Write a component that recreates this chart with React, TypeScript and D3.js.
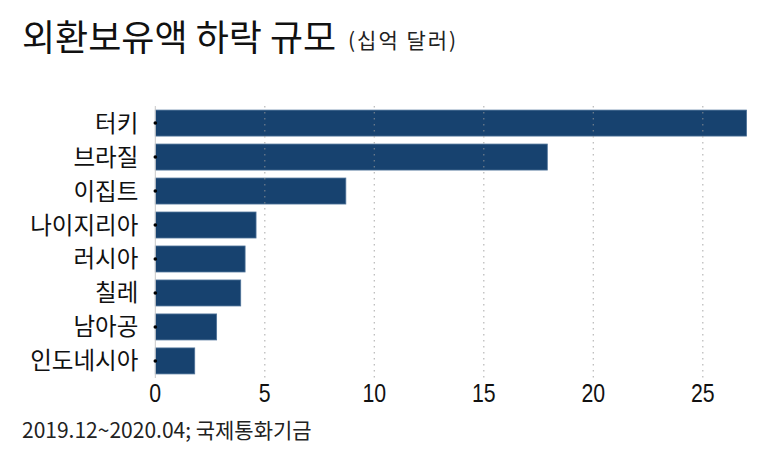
import { useEffect, useRef } from 'react';
import * as d3 from 'd3';

const COUNTRIES = ['터키', '브라질', '이집트', '나이지리아', '러시아', '칠레', '남아공', '인도네시아'];
const DECLINE = [27.0, 17.9, 8.7, 4.6, 4.1, 3.9, 2.8, 1.8];
const X_TICKS = [0, 5, 10, 15, 20, 25];

const TITLE = '외환보유액 하락 규모';
const UNIT = '(십억 달러)';
const SOURCE = '2019.12~2020.04; 국제통화기금';

const WIDTH = 777;
const HEIGHT = 456;
const MARGIN = { top: 106, right: 0, bottom: 78, left: 155.3 };
const KO_FONT = '"Noto Sans CJK KR", "Noto Sans", sans-serif';
const NUM_FONT = '"Liberation Sans", Arial, sans-serif';
const BAR_FILL = '#17426f';
const BAR_EDGE = '#4f7399';

export default function App() {
  const svgRef = useRef<SVGSVGElement>(null);

  useEffect(() => {
    if (!svgRef.current) return;
    const svg = d3.select(svgRef.current);
    svg.selectAll('*').remove();

    const x = d3.scaleLinear().domain([0, 25]).range([MARGIN.left, MARGIN.left + 25 * 21.9]);
    const y = d3.scaleBand<string>()
      .domain(COUNTRIES)
      .range([MARGIN.top, HEIGHT - MARGIN.bottom])
      .paddingInner(0.235)
      .paddingOuter(0.12);

    const yTop = MARGIN.top;
    const yBot = HEIGHT - MARGIN.bottom;

    // Title
    svg.append('text')
      .attr('x', 22).attr('y', 51)
      .attr('font-family', KO_FONT).attr('font-size', 36).attr('fill', '#111')
      .text(TITLE);
    svg.append('text')
      .attr('x', 348).attr('y', 48)
      .attr('font-family', KO_FONT).attr('font-size', 21)
      .attr('letter-spacing', 2).attr('fill', '#222')
      .text(UNIT);

    // Bars
    svg.append('g')
      .selectAll('rect')
      .data(COUNTRIES)
      .join('rect')
      .attr('x', x(0))
      .attr('y', d => y(d)!)
      .attr('width', (_, i) => x(DECLINE[i]) - x(0))
      .attr('height', y.bandwidth())
      .attr('fill', BAR_FILL)
      .attr('stroke', BAR_EDGE)
      .attr('stroke-width', 0.8);

    // Dotted grid lines
    svg.append('g')
      .selectAll('line')
      .data(X_TICKS.filter(t => t > 0))
      .join('line')
      .attr('x1', d => x(d)).attr('x2', d => x(d))
      .attr('y1', yTop).attr('y2', yBot)
      .attr('stroke', '#9a9a9a')
      .attr('stroke-opacity', 0.7)
      .attr('stroke-width', 1.2)
      .attr('stroke-dasharray', '1.5,4.5');

    // Zero line
    svg.append('line')
      .attr('x1', x(0)).attr('x2', x(0))
      .attr('y1', yTop).attr('y2', yBot)
      .attr('stroke', '#c9c9c9').attr('stroke-width', 1);

    // Tick dots + category labels
    const rows = svg.append('g');
    COUNTRIES.forEach(c => {
      const cy = y(c)! + y.bandwidth() / 2;
      rows.append('circle')
        .attr('cx', x(0)).attr('cy', cy).attr('r', 1.8).attr('fill', '#000');
      rows.append('text')
        .attr('x', x(0) - 17).attr('y', cy + 8.5)
        .attr('text-anchor', 'end')
        .attr('font-family', KO_FONT).attr('font-size', 23.5).attr('fill', '#111')
        .text(c);
    });

    // X tick labels (narrowed sans)
    svg.append('g')
      .selectAll('text')
      .data(X_TICKS)
      .join('text')
      .attr('transform', d => `translate(${x(d)},402) scale(0.82,1)`)
      .attr('text-anchor', 'middle')
      .attr('font-family', NUM_FONT)
      .attr('font-size', 26).attr('fill', '#111')
      .text(d => d);

    // Source
    svg.append('text')
      .attr('x', 22).attr('y', 438)
      .attr('font-family', KO_FONT).attr('font-size', 21).attr('fill', '#222')
      .text(SOURCE);
  }, []);

  return (
    <svg
      ref={svgRef}
      width={WIDTH}
      height={HEIGHT}
      style={{ position: 'absolute', left: 0, top: 0, background: '#fff', display: 'block' }}
    />
  );
}
